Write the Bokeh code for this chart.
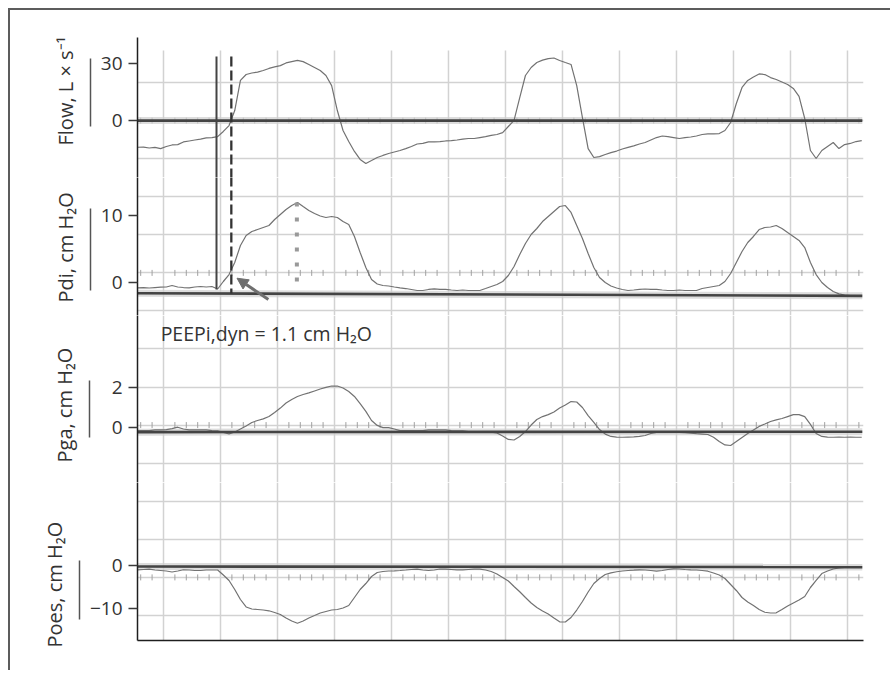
import numpy as np
from bokeh.plotting import figure
from bokeh.layouts import column
from bokeh.models import (Range1d, FixedTicker, LinearAxis, Title, Label,
                          Arrow, NormalHead)
from bokeh.embed import file_html
from bokeh.resources import INLINE

# ---------------------------------------------------------------- data
# sample times (s); one grid division = 1 s, samples every 0.1 s from -0.45 s
T0, DT = -0.45, 0.1

flow = [-14.0, -13.9, -14.4, -14.1, -14.7, -13.6, -12.8, -12.6, -11.2, -10.7,
        -10.2, -9.7, -9.1, -8.9, -8.4, -5.7, -2.6, 5.3, 21.1, 24.2,
        25.0, 25.5, 26.3, 27.4, 28.2, 28.9, 30.3, 31.0, 31.6, 31.0,
        29.5, 27.9, 26.3, 23.7, 18.4, 5.3, -5.2, -11.0, -16.2, -20.4,
        -22.5, -21.0, -19.4, -18.3, -17.3, -16.5, -15.7, -14.7, -13.6, -12.3,
        -12.0, -11.2, -11.2, -11.0, -10.7, -10.5, -10.2, -9.7, -9.4, -9.4,
        -8.9, -8.4, -7.8, -7.3, -6.3, -3.1, 0.1, 12.1, 23.7, 27.9,
        30.5, 31.8, 32.6, 32.9, 31.6, 30.5, 29.5, 18.4, 1.6, -14.7,
        -19.4, -18.9, -17.8, -16.8, -16.0, -14.9, -14.1, -13.3, -12.3, -11.5,
        -10.2, -8.9, -8.1, -8.4, -8.9, -9.4, -8.9, -8.6, -8.1, -7.3,
        -7.0, -7.0, -6.8, -5.2, -1.0, 9.0, 17.4, 21.1, 22.9, 24.5,
        24.2, 22.6, 21.6, 20.3, 19.0, 16.9, 12.7, 1.1, -15.7, -19.9,
        -15.7, -13.6, -11.5, -14.7, -12.6, -12.0, -11.0, -10.5]

pdi = [-0.79, -0.75, -0.82, -0.75, -0.70, -0.67, -0.45, -0.67, -0.75, -0.79,
       -0.67, -0.60, -0.67, -0.60, -0.97, 0.15, 1.19, 2.99, 5.52, 7.01,
       7.61, 7.91, 8.21, 8.51, 9.40, 10.15, 10.90, 11.49, 11.94, 11.34,
       10.75, 10.30, 9.93, 9.70, 9.85, 9.70, 9.10, 8.66, 6.87, 4.48,
       2.24, 0.45, -0.22, -0.45, -0.52, -0.67, -0.79, -0.90, -1.04, -1.19,
       -1.19, -1.04, -0.94, -1.04, -1.04, -1.12, -1.19, -1.12, -1.19, -1.19,
       -1.19, -0.90, -0.60, -0.30, 0.15, 1.04, 2.39, 4.18, 5.82, 7.16,
       8.06, 9.10, 9.85, 10.60, 11.34, 11.49, 10.45, 8.51, 6.57, 4.33,
       2.24, 0.75, 0.00, -0.52, -0.82, -1.04, -1.19, -1.12, -1.04, -0.97,
       -1.04, -1.04, -1.12, -1.19, -1.19, -1.12, -1.19, -1.19, -1.19, -0.90,
       -0.75, -0.60, -0.45, 0.15, 1.34, 2.99, 4.63, 5.97, 6.87, 7.91,
       8.21, 8.28, 8.51, 8.06, 7.46, 6.87, 6.27, 5.22, 2.99, 1.19,
       0.00, -0.75, -1.34, -1.69, -1.87, -1.94, -1.99, -2.01]

pga = [-0.17, -0.17, -0.17, -0.14, -0.14, -0.12, -0.07, 0.00, -0.09, -0.14,
       -0.13, -0.14, -0.14, -0.17, -0.19, -0.27, -0.34, -0.24, -0.09, 0.06,
       0.24, 0.34, 0.42, 0.54, 0.75, 0.97, 1.23, 1.41, 1.56, 1.66,
       1.74, 1.84, 1.94, 2.02, 2.09, 2.09, 1.99, 1.81, 1.56, 1.20,
       0.80, 0.34, 0.09, -0.02, -0.02, -0.09, -0.17, -0.17, -0.17, -0.17,
       -0.17, -0.14, -0.14, -0.13, -0.14, -0.17, -0.19, -0.19, -0.22, -0.22,
       -0.24, -0.24, -0.25, -0.29, -0.45, -0.62, -0.65, -0.47, -0.22, 0.11,
       0.39, 0.54, 0.64, 0.77, 0.97, 1.13, 1.30, 1.28, 1.00, 0.59,
       0.24, -0.12, -0.35, -0.47, -0.50, -0.51, -0.50, -0.49, -0.47, -0.42,
       -0.32, -0.27, -0.25, -0.24, -0.25, -0.27, -0.28, -0.30, -0.33, -0.35,
       -0.37, -0.51, -0.73, -0.90, -0.93, -0.73, -0.52, -0.32, -0.14, 0.04,
       0.16, 0.29, 0.37, 0.44, 0.54, 0.64, 0.64, 0.54, 0.14, -0.32,
       -0.47, -0.50, -0.51, -0.50, -0.51, -0.50, -0.51, -0.51]

poes = [-0.99, -0.92, -0.85, -1.04, -1.15, -1.27, -1.50, -1.27, -0.99, -1.04,
        -1.15, -1.15, -1.04, -1.04, -1.04, -2.19, -3.46, -5.54, -7.85, -9.58,
        -10.05, -10.16, -10.28, -10.46, -10.85, -11.32, -12.12, -12.82, -13.33, -12.82,
        -12.12, -11.55, -10.97, -10.62, -10.28, -10.16, -9.82, -9.24, -7.39, -5.54,
        -4.16, -2.54, -1.62, -1.39, -1.27, -1.22, -1.15, -1.04, -0.92, -0.85,
        -1.04, -1.15, -1.04, -0.81, -0.85, -0.92, -0.99, -0.99, -0.92, -0.85,
        -0.85, -1.04, -1.39, -1.96, -2.77, -3.58, -4.85, -6.07, -7.39, -8.66,
        -9.70, -10.51, -11.20, -12.12, -13.00, -13.05, -12.01, -10.28, -8.31, -6.12,
        -4.16, -3.00, -2.08, -1.69, -1.45, -1.27, -1.15, -1.09, -0.99, -1.04,
        -1.15, -1.32, -1.15, -0.92, -0.76, -0.81, -0.92, -0.99, -1.04, -1.15,
        -1.32, -1.73, -2.19, -3.00, -4.39, -5.77, -7.39, -8.43, -9.24, -10.16,
        -10.79, -10.97, -10.92, -10.16, -9.35, -8.66, -7.97, -7.16, -5.08, -3.46,
        -1.85, -1.27, -0.81, -0.58, -0.46, -0.39, -0.35, -0.35]

# reference (baseline) lines drawn on each tracing
base_t = [-0.45, 12.26]
flow_base = [0.0, 0.0]
pdi_base = [-1.60, -1.99]
pga_base = [-0.25, -0.23]
poes_base = [-0.23, -0.37]

# tick values and labels of the four y axes
flow_ticks = [0, 30]
pdi_ticks = [0, 10]
pga_ticks = [0, 2]
poes_ticks = [-10, 0]
labels = ["Flow, L \u00d7 s\u207b\u00b9", "Pdi, cm H\u2082O", "Pga, cm H\u2082O", "Poes, cm H\u2082O"]

# markers of the PEEPi,dyn measurement
onset_t = 0.93         # onset of Pdi rise (solid line)
zero_flow_t = 1.19     # start of inspiratory flow (dashed line)
pdi_peak_t = 2.34      # Pdi peak (dotted line)
peepi_text = "PEEPi,dyn = 1.1 cm H\u2082O"

t = T0 + DT * np.arange(len(flow))

# ---------------------------------------------------------------- style
FONT = "Open Sans"
TXT = "#333333"
GRID = "#d2d2d2"
TRACE = "#727272"
DARK = "#444444"

X_RANGE = Range1d(-0.456, 12.281)


def make_panel(frame_h, yr, grid_vals, ticked, ticks, label, bar, spacer,
               title_off, top=0, bottom=0, overrides=None, show_x=False):
    p = figure(frame_width=726, frame_height=frame_h, x_range=X_RANGE,
               y_range=Range1d(*yr), output_backend="svg", toolbar_location=None,
               min_border_left=127, min_border_right=27, min_border_top=top,
               min_border_bottom=bottom, background_fill_color="white",
               border_fill_color="white", outline_line_color=None)
    # grids
    p.xgrid.ticker = FixedTicker(ticks=list(range(13)))
    p.xgrid.grid_line_color = GRID
    p.xgrid.grid_line_width = 1.5
    p.ygrid.ticker = FixedTicker(ticks=grid_vals)
    p.ygrid.grid_line_color = GRID
    p.ygrid.grid_line_width = 1.5
    # x axis
    xa = p.xaxis[0]
    if show_x:
        xa.ticker = FixedTicker(ticks=[])
        xa.major_tick_out = 0
        xa.major_tick_in = 0
        xa.minor_tick_out = 0
        xa.minor_tick_in = 0
        xa.major_label_text_font_size = "0px"
        xa.axis_line_color = "#1e1e1e"
        xa.axis_line_width = 1.5
    else:
        xa.visible = False
    # main y axis
    ya = p.yaxis[0]
    ya.ticker = FixedTicker(ticks=ticks)
    if overrides:
        ya.major_label_overrides = overrides
    ya.major_tick_out = 9
    ya.major_tick_in = 0
    ya.minor_tick_out = 0
    ya.minor_tick_in = 0
    ya.axis_line_color = "#1e1e1e"
    ya.axis_line_width = 1.5
    ya.major_tick_line_color = "#3a3a3a"
    ya.major_tick_line_width = 1.3
    ya.major_label_text_font = FONT
    ya.major_label_text_font_size = "19px"
    ya.major_label_text_color = TXT
    ya.major_label_standoff = 6
    ya.axis_label = " "
    ya.axis_label_text_font_size = "1px"
    ya.axis_label_standoff = spacer
    # scale bar beside the label
    bar_ax = LinearAxis(ticker=FixedTicker(ticks=[]), bounds=bar,
                        major_tick_out=0, major_tick_in=0, minor_tick_out=0,
                        minor_tick_in=0, axis_line_color="#555555",
                        axis_line_width=1.5, major_label_text_font_size="0px",
                        axis_label=" ", axis_label_text_font_size="1px",
                        axis_label_standoff=3)
    p.add_layout(bar_ax, "left")
    p.add_layout(Title(text=label, align="left", offset=title_off, standoff=10,
                       text_font=FONT, text_font_size="20px",
                       text_font_style="normal", text_color=TXT), "left")
    # graticule ticks on the reference grid line
    tx = [k / 5 for k in range(-2, 62) if k % 5 != 0]
    p.scatter(tx, [ticked] * len(tx), marker="dash", angle=np.pi / 2, size=6,
              line_color="#a0a0a0", line_width=1)
    return p


f1 = make_panel(140, (-29.89, 43.66), [-20, 0, 20], 0, flow_ticks, labels[0],
                (-2.9, 32.5), 3, 32, top=27)
f2 = make_panel(138, (-4.925, 15.672), [-4.249, 1.433, 7.115, 12.797], 1.433,
                pdi_ticks, labels[1], (-1.2, 11.0), 3, 13)
f3 = make_panel(167, (-2.807, 5.670), [-1.826, 0.107, 2.039, 3.972], 0.107,
                pga_ticks, labels[2], (-0.51, 2.37), 15, 20)
f4 = make_panel(158, (-17.321, 19.169), [-11.54, -2.748, 6.044, 14.836], -2.748,
                poes_ticks, labels[3], (-12.54, 1.15), 3, -7, bottom=30,
                overrides={-10: "\u221210"}, show_x=True)

# vertical grid of the top panel starts a little below the frame top
f1.xgrid.visible = False
gx = list(range(13))
f1.segment(x0=gx, y0=[36.8] * 13, x1=gx, y1=[-40] * 13, line_color=GRID,
           line_width=1.5, level="underlay")

# traces and baselines
for fig, vals, base in ((f1, flow, flow_base), (f2, pdi, pdi_base),
                        (f3, pga, pga_base), (f4, poes, poes_base)):
    fig.line(base_t, base, line_color="#cfcfcf", line_width=7, line_alpha=0.7)
    fig.line(t, vals, line_color=TRACE, line_width=1.2)
    fig.line(base_t, base, line_color=DARK, line_width=2.6)

# measurement markers
f1.segment(x0=[onset_t], y0=[33.7], x1=[onset_t], y1=[-40], line_color=DARK,
           line_width=2)
f1.segment(x0=[zero_flow_t], y0=[33.7], x1=[zero_flow_t], y1=[-40],
           line_color="#333333", line_width=2.3, line_dash="10 4")
f2.segment(x0=[onset_t], y0=[20], x1=[onset_t], y1=[-1.04], line_color=DARK,
           line_width=2)
f2.segment(x0=[zero_flow_t], y0=[20], x1=[zero_flow_t], y1=[-1.64],
           line_color="#333333", line_width=2.3, line_dash="10 4")
f2.segment(x0=[pdi_peak_t], y0=[11.94], x1=[pdi_peak_t], y1=[-1.19],
           line_color="#999999", line_width=4, line_dash="4 11")
f2.add_layout(Arrow(x_start=1.84, y_start=-2.54, x_end=1.29, y_end=0.64,
                    line_color="#6f6f6f", line_width=3,
                    end=NormalHead(size=11, fill_color="#6f6f6f",
                                   line_color="#6f6f6f")))
# the PEEPi,dyn note sits just below the Pdi tracing (drawn in the Pga panel)
f3.add_layout(Label(x=-0.05, y=4.741, text=peepi_text, text_font=FONT,
                    text_font_size="19.5px", text_color=TXT,
                    text_baseline="alphabetic"))

layout = column(f1, f2, f3, f4, spacing=0, margin=(8, 0, 0, 8),
                styles={"border-top": "2px solid #5c5c5c",
                        "border-left": "2px solid #5c5c5c"})

open("out.html", "w").write(file_html(layout, INLINE))
